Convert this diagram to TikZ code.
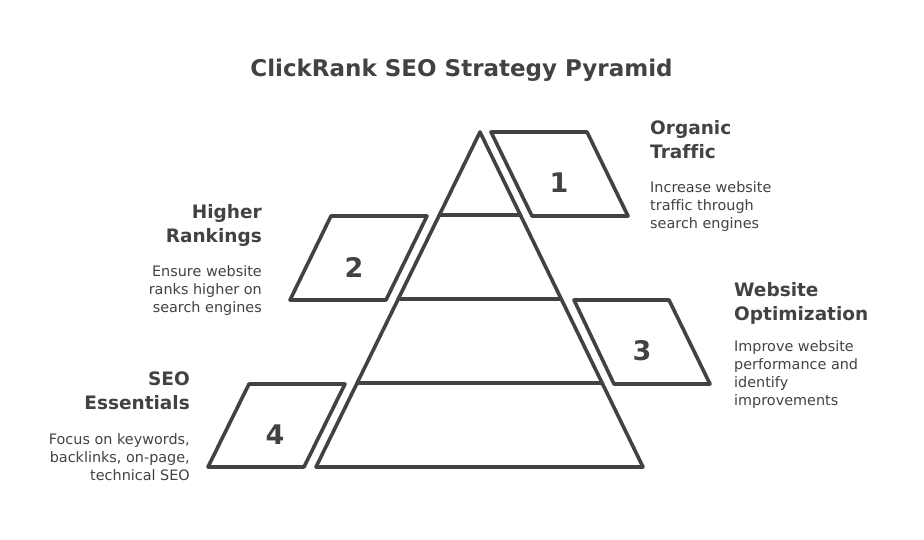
\documentclass[tikz,border=0pt]{standalone}
\usepackage{fontspec}
\setmainfont[Ligatures=NoCommon]{DejaVu Sans}
\usetikzlibrary{positioning}
\definecolor{ink}{HTML}{424242}
\tikzset{x=1pt,y=-1pt,
line/.style={draw=ink,line width=3.6pt,line join=round,line cap=round},
number/.style={text=ink,inner sep=0pt,font=\bfseries\fontsize{27}{27}\selectfont},
heading/.style={text=ink,inner sep=0pt,font=\bfseries\fontsize{18.5}{24}\selectfont},
body/.style={text=ink,inner sep=0pt,font=\fontsize{14.4}{18}\selectfont}}
\begin{document}
\begin{tikzpicture}
  \path[use as bounding box] (0,0) rectangle (924,540);
  \node (title) [text=ink,inner sep=0pt,font=\bfseries\fontsize{23}{24}\selectfont] at (461.5,70) {ClickRank SEO Strategy Pyramid};
  % pyramid
  \coordinate (top) at (480,132);
  \coordinate (bl) at (316,467);
  \coordinate (br) at (643,467);
  \coordinate (l1) at (440,215);
  \coordinate (r1) at (520,215);
  \coordinate (l2) at (400,299);
  \coordinate (r2) at (560,299);
  \coordinate (l3) at (359,383);
  \coordinate (r3) at (601,383);
  \draw [line] (top) -- (br) -- (bl) -- cycle;
  \draw [line] (l1) -- (r1);
  \draw [line] (l2) -- (r2);
  \draw [line] (l3) -- (r3);
  % parallelograms
  \draw [line] (491,132) -- (587,132) -- (628,216) -- (532,216) -- cycle;
  \draw [line] (331,216) -- (427,216) -- (386,300) -- (290,300) -- cycle;
  \draw [line] (574,300) -- (669,300) -- (710,384) -- (614,384) -- cycle;
  \draw [line] (249,384) -- (345,384) -- (304,467) -- (208,467) -- cycle;
  \node (n1) [number] at (559,183) {1};
  \node (n2) [number] at (354,267) {2};
  \node (n3) [number] at (642,351) {3};
  \node (n4) [number] at (275,435) {4};
  % texts
  \node (h1) [heading,align=left,anchor=north west] at (650,120) {Organic\\Traffic};
  \node (b1) [body,align=left,anchor=north west] at (650,181) {Increase website\\traffic through\\search engines};
  \node (h2) [heading,align=right,anchor=north east] at (262,204) {Higher\\Rankings};
  \node (b2) [body,align=right,anchor=north east] at (262,265) {Ensure website\\ranks higher on\\search engines};
  \node (h3) [heading,align=left,anchor=north west] at (734,282) {Website\\Optimization};
  \node (b3) [body,align=left,anchor=north west] at (734,340) {Improve website\\performance and\\identify\\improvements};
  \node (h4) [heading,align=right,anchor=north east] at (190,372) {SEO\\Essentials};
  \node (b4) [body,align=right,anchor=north east] at (190,433) {Focus on keywords,\\backlinks, on-page,\\technical SEO};
\end{tikzpicture}
\end{document}
